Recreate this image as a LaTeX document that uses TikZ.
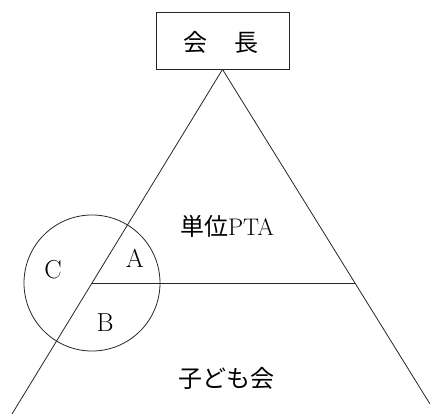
\documentclass[tikz,border=0pt]{standalone}
\usepackage{fontspec}
\newfontfamily\jp{Noto Sans CJK JP}
\tikzset{
  ln/.style={line width=0.8pt, draw=black!85},
  jlabel/.style={font=\jp\fontsize{24}{24}\selectfont, inner sep=0pt},
  llabel/.style={font=\fontsize{26}{26}\selectfont, inner sep=0pt},
}
\begin{document}
\begin{tikzpicture}[x=1pt,y=-1pt]
\useasboundingbox (0,0) rectangle (430,414);
\node[ln, draw, minimum width=133pt, minimum height=57pt, inner sep=0pt] (box) at (222.5,40.5) {};
\node[jlabel] (kaicho) at (221,42) {会\hspace{28pt}長};
\coordinate (L) at (12,414);
\coordinate (R) at (430,404);
\coordinate (H1) at (92,283);
\coordinate (H2) at (355,283);
\draw[ln] (box.south) -- (L);
\draw[ln] (box.south) -- (R);
\draw[ln] (H1) -- (H2);
\node[ln, draw, circle, minimum size=136pt, inner sep=0pt] (circ) at (H1) {};
\node[llabel] (C) at (53,270) {C};
\node[llabel] (A) at (135,258) {A};
\node[llabel] (B) at (105,323) {B};
\node[jlabel] (pta) at (227,226) {単位\fontspec{Latin Modern Roman}PTA};
\node[jlabel] (kodomo) at (226,378) {子ども会};
\end{tikzpicture}
\end{document}
